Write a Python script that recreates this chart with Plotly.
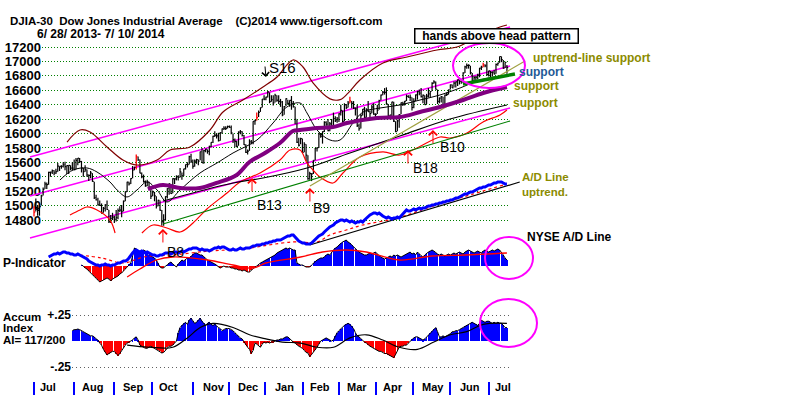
import plotly.graph_objects as go

# ---------------- data (trading-day index 0 = 6/28/2013) ----------------
close = [14910,
 14975,14932,14988,15136,15225,15300,15291,15460,15464,15484,15452,15470,15548,15543,15545,15567,15542,15555,15559,15521,15520,15500,
 15628,15658,15612,15519,15471,15498,15425,15419,15452,15337,15112,15081,15010,15002,14897,14963,15010,14946,14776,14825,14840,14810,
 14834,14931,14938,14922,15063,15191,15327,15301,15376,15494,15530,15677,15636,15451,15401,15334,15273,15328,15258,15130,
 15191,15134,14996,15072,14936,14776,14802,15126,15237,15301,15168,15373,15372,15399,15392,15467,15413,15509,15570,15569,15680,15618,15546,
 15616,15639,15618,15747,15594,15762,15784,15751,15822,15876,15962,15976,15968,15901,16010,16065,16073,16072,16097,16086,
 16008,15915,15889,15821,16020,16025,15974,15844,15740,15755,15885,15876,16168,16179,16221,16294,16358,16479,16478,16505,16577,
 16441,16470,16425,16531,16462,16445,16437,16257,16374,16482,16418,16459,16414,16374,16198,15879,15838,15929,15739,15849,15699,
 15373,15445,15441,15629,15795,15802,15994,15964,16027,16154,16130,16040,16134,16104,16208,16180,16199,16273,16322,
 16168,16396,16360,16422,16453,16419,16352,16341,16109,16066,16247,16337,16223,16331,16303,16276,16368,16268,16265,16323,16458,
 16533,16573,16572,16413,16246,16257,16437,16171,16027,16174,16263,16425,16409,16449,16515,16502,16502,16361,16448,16535,16581,
 16559,16513,16531,16401,16518,16551,16583,16695,16715,16614,16447,16491,16511,16374,16533,16543,16606,16676,16633,16699,16717,
 16743,16722,16738,16837,16924,16944,16946,16844,16735,16776,16781,16808,16906,16921,16948,16938,16818,16868,16847,16852,16827,
 16957,16977,17068,17025,16907,16986,16915]

high = [14990,
 15100,15010,15000,15150,15250,15330,15320,15470,15470,15500,15490,15510,15590,15545,15560,15600,15610,15560,15560,15560,15600,15640,
 15660,15660,15660,15620,15520,15560,15500,15430,15480,15450,15330,15150,15110,15070,15030,14980,15020,15070,14940,14870,14900,14860,
 14940,14960,14990,15010,15070,15200,15330,15330,15380,15550,15540,15710,15680,15640,15460,15430,15350,15360,15330,15260,
 15210,15190,15130,15080,15070,14940,14880,15130,15240,15310,15300,15380,15380,15420,15420,15520,15460,15510,15570,15600,15690,15720,15640,
 15640,15650,15640,15750,15800,15770,15790,15780,15830,15880,15970,16030,16000,16010,16020,16070,16100,16100,16110,16110,
 16110,16000,15930,15900,16030,16050,16030,15980,15850,15780,15920,15910,16170,16190,16290,16320,16360,16480,16530,16510,16590,
 16570,16530,16530,16550,16530,16530,16480,16450,16380,16490,16470,16460,16520,16450,16370,16190,15940,15940,15930,15880,15850,
 15700,15470,15450,15630,15800,15810,16010,16000,16030,16170,16170,16200,16160,16200,16290,16240,16230,16280,16400,
 16320,16420,16410,16450,16510,16450,16450,16360,16400,16140,16270,16340,16370,16350,16450,16320,16400,16420,16280,16400,16470,
 16540,16590,16630,16640,16410,16260,16440,16440,16170,16190,16270,16430,16440,16450,16540,16530,16540,16500,16490,16540,16590,
 16610,16630,16540,16530,16550,16630,16590,16710,16740,16720,16610,16500,16520,16510,16540,16570,16610,16680,16680,16720,16720,
 16750,16740,16740,16850,16940,16970,16960,16940,16840,16800,16800,16830,16910,16940,16980,16960,17000,16870,16870,16860,16880,
 16970,16980,17070,17070,17020,16990,16950]

low = [14850,
 14920,14860,14860,15000,15140,15230,15230,15290,15400,15440,15420,15440,15470,15480,15510,15530,15490,15440,15440,15490,15490,15490,
 15500,15560,15590,15460,15400,15470,15400,15340,15380,15330,15090,15070,15000,15000,14890,14900,14920,14940,14760,14760,14800,14760,
 14780,14810,14910,14840,14920,15060,15190,15280,15300,15380,15490,15500,15620,15450,15380,15320,15260,15270,15230,15090,
 15130,15060,14960,14990,14930,14720,14720,14800,15100,15150,15160,15170,15300,15350,15350,15390,15360,15410,15500,15530,15570,15590,15510,
 15540,15580,15560,15630,15590,15580,15740,15720,15700,15810,15870,15950,15930,15890,15900,16000,16050,16050,16070,16080,
 15990,15870,15810,15810,15830,15990,15960,15840,15730,15710,15760,15850,15850,16120,16180,16230,16300,16360,16460,16460,16500,
 16420,16440,16390,16430,16440,16410,16370,16240,16260,16380,16400,16370,16330,16360,16130,15870,15820,15850,15730,15740,15620,
 15360,15360,15340,15440,15630,15750,15800,15940,15860,16020,16100,16030,16030,16100,16100,16160,16150,16160,16250,
 16120,16170,16340,16360,16420,16350,16340,16250,16090,16040,16070,16250,16190,16220,16300,16200,16280,16260,16200,16270,16330,
 16460,16530,16540,16400,16230,16200,16240,16160,16020,16030,16080,16270,16380,16390,16450,16500,16450,16320,16350,16450,16470,
 16530,16500,16420,16400,16410,16500,16500,16590,16690,16610,16410,16420,16430,16360,16380,16520,16540,16610,16630,16640,16640,
 16660,16680,16690,16700,16840,16900,16900,16820,16720,16720,16730,16750,16780,16880,16920,16920,16800,16790,16750,16790,16820,
 16830,16940,16980,16990,16900,16910,16830]

red_days = [0, 56, 122, 173, 246]

month_names = ["Jul", "Aug", "Sep", "Oct", "Nov", "Dec", "Jan", "Feb", "Mar", "Apr", "May", "Jun", "Jul"]
month_ticks = [0, 21.9, 43.8, 64.6, 87.1, 106.8, 126.5, 147.3, 167.0, 187.3, 207.6, 227.9, 249.2]
month_mid = [7.5, 32.3, 54.2, 73.4, 98.6, 117.2, 137.4, 156.6, 176.9, 196.6, 218.5, 238.8, 256.8]
price_ticks = [14800, 15000, 15200, 15400, 15600, 15800, 16000, 16200, 16400, 16600, 16800, 17000, 17200]

# upper (maroon) and lower (red) bands
band_up_day = [18.1, 25.2, 30.7, 40, 48.7, 56.4, 67.4, 74.5, 85.4, 96.4, 103.5, 114.4, 125.4, 133.1, 141.8, 147.3,
               152.8, 162.1, 167.6, 172, 178.5, 191.1, 204.3, 220.7, 231.6, 242.6, 255.2, 259]
band_up = [15882, 16049, 16021, 15813, 15633, 15563, 15633, 15771, 15813, 16049, 16298, 16465, 16645, 16784, 17020, 16923,
           16701, 16480, 16470, 16560, 16742, 16978, 17061, 17158, 17200, 17339, 17477, 17505]
band_lo_day = [19.7, 25.2, 29, 34.5, 41.6, 44.4, None, 59.1, 65.2, 72.8, 80, 87.1, 94.7, 105.7, 112.8, 123.8, 134.7, 140.2,
               145.7, 149.5, 152.8, 156.6, 163.7, 169.2, 178.5, 191.1, 200.4, 209.7, 222.3, 227.8, 237.1, 245.9, 255.2, 259]
band_lo = [14870, 14939, 14981, 14939, 14800, 14620, None, 14620, 14731, 14690, 14634, 14759, 14953, 15175, 15328, 15452, 15633, 15771,
           15771, 15591, 15494, 15397, 15314, 15452, 15674, 15744, 15702, 15799, 15952, 15938, 16007, 16160, 16257, 16326]

ma21_day = [14.2, 21.4, 29, 34.5, 41.6, 45.5, 50.9, 56.4, 61.9, 67.4, 72.8, 80, 90.9, 100.2, 109, 122.1, 130.9, 138.5,
            145.7, 149.5, 155, 162.1, 167.6, 174.7, 180.2, 189.5, 200.4, 211.4, 222.3, 233.3, 244.2, 259]
ma21 = [15355, 15494, 15522, 15466, 15328, 15217, 15120, 15217, 15328, 15217, 15050, 15217, 15452, 15591, 15730, 15910, 16146, 16368,
        16423, 16285, 16049, 15910, 15910, 16146, 16298, 16354, 16396, 16465, 16534, 16631, 16742, 16812]

ma50_day = [62.4, 70.6, 80, 90.9, 100, 111, 118, 126.5, 134.7, 141.8, 145.7, 155, 163.7, 171.4, 187.8, 200.4, 211.4, 222.3, 235, 246, 259]
ma50 = [15230, 15286, 15244, 15244, 15314, 15425, 15605, 15730, 15868, 16035, 16049, 16077, 16090, 16146, 16215, 16229, 16298,
        16368, 16465, 16562, 16645]

ma200_day = [70.6, 109, 125.4, 149.5, 173, 200.4, 227.8, 259]
ma200 = [15064, 15314, 15383, 15522, 15730, 15965, 16201, 16396]

chan_day = [-2.2, 260.7]
chan_top = [15674, 17477]
chan_mid = [15133, 16936]
chan_low = [14551, 16354]
trend_green_day = [70.6, 260.7]
trend_green = [14745, 16174]
trend_olive_day = [151.1, 268.9]
trend_olive = [15272, 17006]
support_green_day = [234.9, 263.4]
support_green = [16687, 16826]

sig_names = ["B8", "B13", "B9", "B18", "B10"]
sig_day = [70.6, 119.4, 151.1, 204.8, 218.5]
sig_price = [14676, 15383, 15244, 15771, 16049]
sell_day = [127.0]
sell_price = [16784]

# P-Indicator (from day 26) and NYSE A/D line (from day 8), common unit scale
p_start = 26
p_ind = [1, 0, -2, -3, -5, -7, -8, -10, -12, -14,
 -16, -15, -14, -13, -12, -13, -15, -13, -12, -11,
 -10, -8, -7, -5, -3, -1, 2, 3, 10, 18,
 17, 15, 14, 15, 16, 15, 13, 11, 10, 9,
 8, 6, 3, -1, -2, -2, 0, 1, 3, 4,
 2, 0, -1, 2, 4, 6, 5, 7, 8, 8,
 10, 12, 13, 13, 12, 11, 11, 9, 7, 6,
 5, 4, 3, 2, 1, -1, -2, -1, 0, -1,
 -1, -1, -2, -2, -3, -3, -4, -4, -5, -4,
 -5, -6, -6, -4, -2, -1, 0, 2, 3, 4,
 5, 6, 7, 8, 9, 10, 11, 13, 14, 15,
 16, 17, 18, 17, 18, 17, 16, 16, 3, 2,
 1, 1, 0, -1, -1, -1, 1, 3, 5, 6,
 7, 8, 8, 9, 11, 12, 11, 14, 16, 18,
 19, 21, 23, 24, 25, 26, 24, 23, 21, 19,
 17, 15, 14, 13, 12, 11, 11, 12, 13, 12,
 13, 14, 12, 10, 9, 8, 7, 8, 9, 10,
 9, 11, 10, 11, 10, 9, 10, 11, 12, 13,
 14, 12, 13, 11, 14, 12, 10, 9, 11, 13,
 14, 15, 16, 15, 13, 12, 11, 12, 11, 10,
 11, 12, 11, 12, 13, 12, 13, 14, 13, 12,
 14, 15, 16, 15, 14, 13, 14, 15, 14, 13,
 15, 16, 15, 14, 15, 16, 15, 16, 17, 16,
 14, 11, 8, 6]
p_ma_day = [51, 58, 67, 76, 95, 109, 120, 127, 146, 158, 171, 182, 200, 218, 236, 259]
p_ma = [-11, -3, 6, 9, 6, 1, -2, 3, 9, 14, 16, 14, 6, 10, 11, 13]

ad_start = 8
ad_line = [9, 10, 11, 12, 12, 13, 12, 13, 14, 14,
 13, 13, 12, 12, 11, 11, 12, 11, 10, 9,
 8, 7, 5, 4, 3, 2, 1, 1, 0, 1,
 1, 2, 1, 1, 0, 1, 1, 2, 3, 3,
 4, 5, 5, 6, 8, 11, 13, 15, 16, 15,
 14, 15, 14, 13, 14, 13, 12, 11, 11, 10,
 10, 11, 11, 12, 13, 13, 13, 12, 13, 14,
 14, 13, 14, 15, 14, 15, 16, 17, 17, 18,
 18, 18, 17, 16, 17, 16, 16, 16, 15, 16,
 17, 18, 18, 19, 18, 19, 19, 18, 17, 16,
 16, 17, 16, 16, 17, 18, 17, 17, 18, 18,
 18, 19, 20, 20, 21, 21, 21, 22, 22, 23,
 23, 24, 24, 25, 25, 26, 26, 26, 27, 28,
 29, 30, 30, 31, 31, 29, 26, 25, 24, 23,
 23, 22, 22, 22, 23, 25, 27, 29, 30, 31,
 32, 34, 36, 38, 39, 40, 41, 43, 44, 45,
 46, 46, 45, 46, 45, 44, 45, 44, 43, 44,
 44, 45, 44, 46, 48, 50, 51, 52, 53, 53,
 52, 53, 51, 50, 49, 48, 49, 48, 47, 48,
 48, 49, 48, 50, 52, 54, 56, 55, 55, 56,
 57, 56, 57, 58, 57, 58, 58, 59, 60, 60,
 61, 61, 62, 62, 63, 63, 64, 64, 65, 65,
 66, 66, 67, 68, 68, 69, 70, 71, 72, 72,
 73, 74, 74, 75, 76, 77, 78, 78, 79, 79,
 80, 81, 81, 82, 83, 83, 84, 84, 84, 83,
 82, 82]
ad_ma_day = [25, 37, 49, 60, 76, 96, 114, 141, 155, 162, 171, 180, 199, 217, 235, 257]
ad_ma = [11, 8, 3, 9, 11, 15, 17, 24, 24, 31, 36, 41, 48, 59, 69, 81]
ad_trend_day = [151, 266]
ad_trend = [21, 84]

# Accumulation index (from day 21)
ai_start = 21
ai = [.10, .11, .11, .115, .11, .10, .09, .08, .07, .06,
 .05, .05, .04, .02, .01, -.02, -.04, -.08, -.11, -.135,
 -.12, -.11, -.10, -.10, -.12, -.14, -.12, -.09, -.07, -.04,
 -.02, -.01, 0, .01, .03, .04, .01, -.04, -.05, -.06,
 -.07, -.07, -.06, -.05, -.06, -.07, -.08, -.09, -.10, -.115,
 -.11, -.09, -.06, -.05, -.05, -.04, -.02, 0, .08, .13,
 .15, .17, .18, .16, .20, .22, .19, .17, .18, .20,
 .22, .19, .17, .15, .17, .18, .16, .15, .16, .14,
 .13, .12, .10, .11, .12, .12, .12, .11, .10, .08,
 .06, .05, .03, .02, -.01, -.04, -.06, -.08, -.12, -.09,
 -.02, -.03, -.05, -.06, -.03, -.01, -.02, -.01, -.02, -.01,
 -.01, 0, .01, .01, .02, .02, .03, .04, .04, .02,
 0, -.01, -.02, -.04, -.05, -.06, -.07, -.09, -.11, -.115,
 -.15, -.13, -.11, -.09, -.06, -.03, 0, .01, .02, .03,
 .02, .01, 0, .01, .05, .08, .10, .12, .13, .15,
 .16, .17, .16, .14, .12, .08, .05, .04, .02, 0,
 -.01, -.02, -.04, -.05, -.06, -.07, -.08, -.09, -.10, -.10,
 -.11, -.12, -.12, -.13, -.14, -.15, -.16, -.13, -.10, -.06,
 -.05, -.05, -.04, -.04, -.02, 0, .02, .03, .04, .04,
 .03, .02, .01, .02, .04, .06, .08, .10, .12, .13,
 .09, .04, .04, .05, .04, .05, .06, .07, .09, .09,
 .10, .10, .11, .12, .13, .14, .15, .16, .17, .18,
 .17, .16, .15, .17, .20, .19, .18, .19, .19, .18,
 .17, .18, .17, .18, .17, .17, .15, .13, .13]
ai_ma_day = [51, 63, 76, 84, 91, 98, 109, 118, 127, 136, 146, 155, 164, 173, 182, 191, 200, 210, 219, 228, 237, 246, 259]
ai_ma = [-.04, -.06, -.06, .03, .13, .17, .13, .06, .02, -.01, -.02, -.06, -.06, .03, .06, .01, -.06, -.08, -.01, .06, .09, .16, .17]

assert len(close) == len(high) == len(low) == 260

# ---------------- figure ----------------
W, H = 800, 395
F = "Liberation Sans"
PX0, PXS = 34.0, 1.826          # pixel of day 0, pixels per day
X_RANGE = [-PX0 / PXS, (W - PX0) / PXS]
P_RANGE = [12373, 17852]
IND_RANGE = [-129, 266]
AI_RANGE = [-0.519, 3.279]

fig = go.Figure()

# dummy trace so the grid/label subplot renders
fig.add_trace(go.Scatter(x=[0.5], y=[16000], mode="markers", marker=dict(opacity=0),
                         xaxis="x", yaxis="y", hoverinfo="skip"))

def P(*a, **k):
    k.setdefault("xaxis", "x2")
    k.setdefault("yaxis", "y2")
    k.setdefault("hoverinfo", "skip")
    fig.add_trace(go.Scatter(*a, **k))

# channel lines
for yy in (chan_top, chan_mid, chan_low):
    P(x=chan_day, y=yy, mode="lines", line=dict(color="#ff00ff", width=1.5))

# price bars
bx, by, rx, ry = [], [], [], []
for i in range(len(close)):
    tx, ty = (rx, ry) if i in red_days else (bx, by)
    tx += [i, i, None, i, i + 0.7, None]
    ty += [low[i], high[i], None, close[i], close[i], None]
P(x=bx, y=by, mode="lines", line=dict(color="black", width=1.2))
P(x=rx, y=ry, mode="lines", line=dict(color="#ff0000", width=1.3))

# moving averages / bands / trendlines
P(x=band_up_day, y=band_up, mode="lines", line=dict(color="#800000", width=1.2, shape="spline"))
P(x=band_lo_day, y=band_lo, mode="lines", line=dict(color="#ff0000", width=1.2, shape="spline"), connectgaps=False)
P(x=ma21_day, y=ma21, mode="lines", line=dict(color="black", width=1, shape="spline"))
P(x=ma200_day, y=ma200, mode="lines", line=dict(color="black", width=1.2, shape="spline"))
P(x=trend_green_day, y=trend_green, mode="lines", line=dict(color="#008000", width=1.2))
P(x=trend_olive_day, y=trend_olive, mode="lines", line=dict(color="#a0a040", width=1.2))
P(x=ma50_day, y=ma50, mode="lines", line=dict(color="#800080", width=4, shape="spline"))
P(x=support_green_day, y=support_green, mode="lines", line=dict(color="#008000", width=3.5))

# P-Indicator and A/D line
p_days = list(range(p_start, p_start + len(p_ind)))
fig.add_trace(go.Bar(x=p_days, y=p_ind, width=0.38, base=0,
                     marker=dict(color=["#0000ff" if v >= 0 else "#ff0000" for v in p_ind], line=dict(width=0)),
                     xaxis="x2", yaxis="y3", hoverinfo="skip"))
P(x=p_days, y=p_ind, mode="lines", line=dict(color="black", width=1), yaxis="y3")
P(x=p_ma_day, y=p_ma, mode="lines", line=dict(color="#ff0000", width=1.3, shape="spline"), yaxis="y3")
ad_days = list(range(ad_start, ad_start + len(ad_line)))
P(x=ad_ma_day, y=ad_ma, mode="lines", line=dict(color="#ff0000", width=1.2, dash="dot", shape="spline"), yaxis="y3")
P(x=ad_trend_day, y=ad_trend, mode="lines", line=dict(color="black", width=1.2), yaxis="y3")
P(x=ad_days, y=ad_line, mode="lines", line=dict(color="#0000ff", width=3), yaxis="y3")

# Accumulation index
ai_days = list(range(ai_start, ai_start + len(ai)))
fig.add_trace(go.Bar(x=ai_days, y=ai, width=0.38, base=0,
                     marker=dict(color=["#0000ff" if v >= 0 else "#ff0000" for v in ai], line=dict(width=0)),
                     xaxis="x4", yaxis="y4", hoverinfo="skip"))
fig.add_trace(go.Scatter(x=ai_days, y=ai, mode="lines", line=dict(color="black", width=1),
                         xaxis="x4", yaxis="y4", hoverinfo="skip"))
fig.add_trace(go.Scatter(x=ai_ma_day, y=ai_ma, mode="lines", line=dict(color="black", width=1.2, shape="spline"),
                         xaxis="x4", yaxis="y4", hoverinfo="skip"))

# ---------------- annotations ----------------
def label(px, py, text, size=12, color="black", bold=True, xanchor="left"):
    fig.add_annotation(x=px / W, y=1 - py / H, xref="paper", yref="paper", text=text, showarrow=False,
                       xanchor=xanchor, yanchor="middle", borderpad=0,
                       font=dict(family=F, size=size, color=color, weight="bold" if bold else "normal"))

label(9, 20.5, "DJIA-30  Dow Jones Industrial Average    (C)2014 www.tigersoft.com", size=11.5)
label(36, 34, "6/ 28/ 2013- 7/ 10/ 2014", size=12)
fig.add_annotation(x=496 / W, y=1 - 36 / H, xref="paper", yref="paper", text="hands above head pattern",
                   showarrow=False, xanchor="center", yanchor="middle", width=160, height=11, borderpad=1,
                   bordercolor="black", borderwidth=1.5, bgcolor="white",
                   font=dict(family=F, size=12, color="black", weight="bold"))
OL = "#8b8b00"
label(532, 58, "uptrend-line support", color=OL)
label(518, 72.5, "support", color="#1f5a96")
label(513, 86, "support", color=OL)
label(512, 103, "support", color=OL)
label(521, 177, "A/D Line", size=11.5, color=OL)
label(521, 192, "uptrend.", size=11.5, color=OL)
label(526, 237, "NYSE A/D Line")
label(2, 263, "P-Indicator")
label(2, 316.5, "Accum", size=11.5)
label(2, 328, "Index", size=11.5)
label(2, 339.5, "AI= 117/200", size=11.5)

sig_text_pos = [(166, 252), (256, 205), (312, 208), (412, 168), (439, 147)]
for name, d, p, (tx, ty) in zip(sig_names, sig_day, sig_price, sig_text_pos):
    fig.add_annotation(x=d, y=p, xref="x2", yref="y2", ax=0, ay=15, text="", showarrow=True,
                       arrowhead=4, arrowsize=1.6, arrowwidth=1, arrowcolor="#ff0000")
    label(tx, ty, name, size=14, bold=False)
for d, p in zip(sell_day, sell_price):
    fig.add_annotation(x=d, y=p, xref="x2", yref="y2", ax=-1, ay=-12, text="", showarrow=True,
                       arrowhead=4, arrowsize=1.4, arrowwidth=1, arrowcolor="black")
label(268, 67, "S16", size=15, bold=False)

for m, x in zip(month_names, month_mid):
    fig.add_annotation(x=x, y=1 - 387 / H, xref="x2", yref="paper", text=m, showarrow=False,
                       xanchor="center", yanchor="middle",
                       font=dict(family=F, size=11, color="black", weight="bold"))

# circles
for x0, x1, y0, y1 in [(453, 525, 43, 88), (485, 533, 237, 279), (480, 537, 299, 347)]:
    fig.add_shape(type="circle", xref="paper", yref="paper", x0=x0 / W, x1=x1 / W,
                  y0=1 - y1 / H, y1=1 - y0 / H, line=dict(color="#ff00ff", width=2))

# ---------------- layout ----------------
fig.update_layout(
    width=W, height=H, margin=dict(l=0, r=0, t=0, b=0),
    paper_bgcolor="white", plot_bgcolor="rgba(0,0,0,0)", showlegend=False, hovermode=False,
    xaxis=dict(domain=[42 / W, 508 / W], range=[0, 1], visible=False, fixedrange=True),
    yaxis=dict(domain=[0, 1], anchor="x", range=P_RANGE, tickvals=price_ticks,
               ticktext=[str(v) for v in price_ticks], showgrid=True, gridcolor="#008000",
               griddash="1px,2px", gridwidth=1, zeroline=False, showline=False, ticks="",
               tickfont=dict(family=F, size=13, color="black", weight="bold")),
    xaxis2=dict(domain=[0, 1], anchor="y2", range=X_RANGE, tickvals=month_ticks, ticks="inside",
                ticklen=13, tickcolor="#0000ff", tickwidth=1.5, showticklabels=False,
                showgrid=False, zeroline=False, showline=False),
    yaxis2=dict(domain=[0, 1], anchor="x2", range=P_RANGE, visible=False),
    yaxis3=dict(overlaying="y2", anchor="x2", range=IND_RANGE, visible=False),
    xaxis4=dict(domain=[72 / W, 510 / W], anchor="y4",
                range=[(72 - PX0) / PXS, (510 - PX0) / PXS], visible=False),
    yaxis4=dict(domain=[0, 1], anchor="x4", range=AI_RANGE, tickvals=[0.25, -0.25], ticktext=["+.25", "-.25"],
                showgrid=True, gridcolor="#606060", griddash="1px,3px", gridwidth=1, zeroline=False,
                showline=False, ticks="", tickfont=dict(family=F, size=12, color="black", weight="bold")),
    bargap=0,
)

fig.write_html("out.html", config={"displayModeBar": False},
               post_script="document.body.style.margin='0';document.body.style.overflow='hidden';")
